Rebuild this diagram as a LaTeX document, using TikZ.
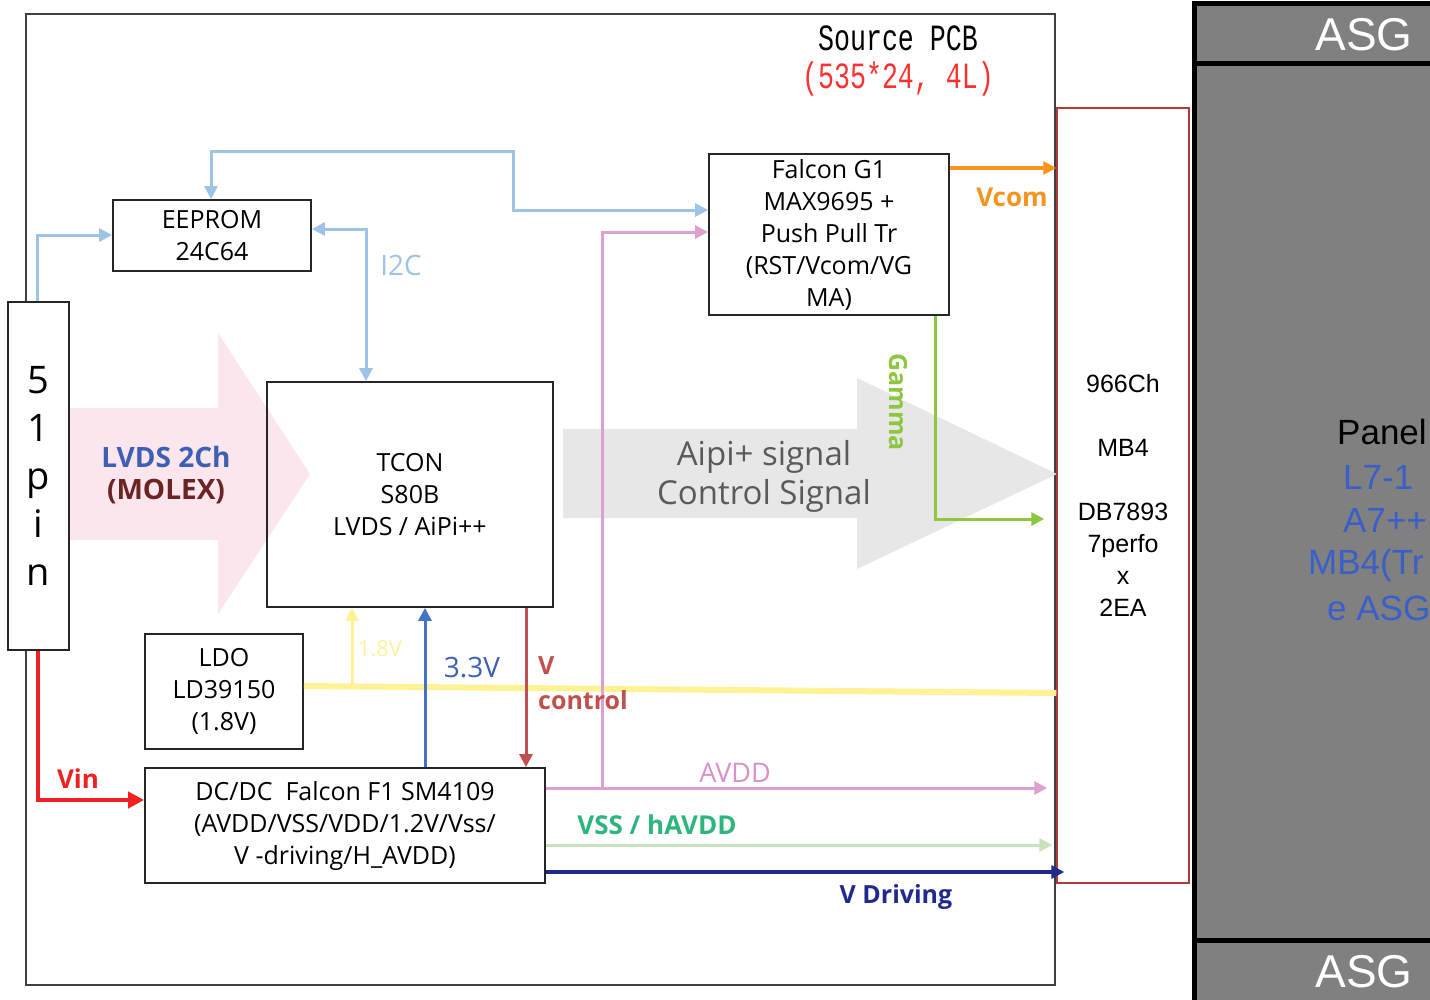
\documentclass[tikz,border=0pt]{standalone}
\usepackage{fontspec}
\setmainfont{Open Sans}
\newfontfamily\lib{Liberation Sans}
\newfontfamily\mono{Liberation Mono}
\usetikzlibrary{arrows.meta,calc}
\definecolor{cLB}{HTML}{9DC3E6}
\definecolor{cPK}{HTML}{DDA0CF}
\definecolor{cPKt}{HTML}{D98FCB}
\definecolor{cLG}{HTML}{C8E3BA}
\definecolor{cVSS}{HTML}{2DB57E}
\definecolor{cNV}{HTML}{1F2A8C}
\definecolor{cYL}{HTML}{FFF294}
\definecolor{cYLt}{HTML}{FFF0A0}
\definecolor{cBU}{HTML}{4472C4}
\definecolor{cBUt}{HTML}{3D5FB4}
\definecolor{cRB}{HTML}{C0504D}
\definecolor{cRD}{HTML}{EE2222}
\definecolor{cOR}{HTML}{F7941D}
\definecolor{cGR}{HTML}{8DC63F}
\definecolor{cPinkA}{HTML}{FCE6EE}
\definecolor{cGrayA}{HTML}{E7E7E7}
\definecolor{cMB}{HTML}{B03A3A}
\definecolor{cPanel}{HTML}{808080}
\definecolor{cPanTxt}{HTML}{3A5FC8}
\definecolor{cMolex}{HTML}{6B2323}
\definecolor{cAipi}{HTML}{5A5A5A}
\definecolor{cPCB}{HTML}{404040}
\definecolor{cSrcRed}{HTML}{FF3030}
\begin{document}
\begin{tikzpicture}[x=1pt,y=-1pt,
  box/.style={draw=black!85, line width=1.8pt, rectangle, inner sep=0pt, align=center,
    font=\fontsize{25}{32}\selectfont},
  arr/.style={-{Triangle[length=13pt,width=13pt]}},
  arrs/.style={{Triangle[length=13pt,width=13pt]}-{Triangle[length=13pt,width=13pt]}},
  wire/.style={line width=3pt},
  lbl/.style={inner sep=0pt, align=center, font=\fontsize{25}{30}\selectfont},
  lblb/.style={inner sep=0pt, align=center, font=\fontsize{25}{30}\selectfont\bfseries}]
\useasboundingbox (0,0) rectangle (1430,999);

% outer source PCB frame
\node[draw=cPCB, line width=2pt, minimum width=1029pt, minimum height=971pt, inner sep=0pt] (pcb) at (540.5,499.5) {};
\node[inner sep=0pt, align=center, font=\mono\fontsize{37}{38}\selectfont] (pcbtitle) at (898,61)
  {\scalebox{0.72}[1]{Source PCB}\\\textcolor{cSrcRed}{\scalebox{0.72}[1]{(535*24, 4L)}}};

% big background arrows
\fill[cPinkA] (64,408) -- (218,408) -- (218,333) -- (310,474) -- (218,614) -- (218,540) -- (64,540) -- cycle;
\fill[cGrayA] (563,429) -- (857,429) -- (857,378) -- (1057,474) -- (857,569) -- (857,518) -- (563,518) -- cycle;
\node[lblb, font=\fontsize{28}{32}\selectfont\bfseries] (lvds) at (166,475) {\textcolor{cBUt}{LVDS 2Ch}\\\textcolor{cMolex}{(MOLEX)}};
\node[lbl, text=cAipi, font=\fontsize{33}{39}\selectfont] (aipi) at (764,476) {Aipi+ signal\\Control Signal};

% boxes
\node[box, fill=white, minimum width=61pt, minimum height=348pt, font=\fontsize{38}{48}\selectfont] (pin) at (38.5,476) {5\\1\\p\\i\\n};
\node[box, minimum width=198pt, minimum height=71pt] (eeprom) at (212,235.5) {EEPROM\\24C64};
\node[box, minimum width=240pt, minimum height=161pt] (falcon) at (829,234.5) {Falcon G1\\MAX9695 +\\Push Pull Tr\\(RST/Vcom/VG\\MA)};
\node[box, minimum width=286pt, minimum height=225pt] (tcon) at (410,494.5) {TCON\\S80B\\LVDS / AiPi++};
\node[box, minimum width=158pt, minimum height=115pt] (ldo) at (224,691.5) {LDO\\LD39150\\(1.8V)};
\node[box, minimum width=400pt, minimum height=115pt] (dcdc) at (345,825.5) {DC/DC\ \ Falcon F1 SM4109\\(AVDD/VSS/VDD/1.2V/Vss/\\V -driving/H\_AVDD)};
\node[box, draw=cMB, line width=1.5pt, minimum width=132pt, minimum height=775pt, font=\lib\fontsize{25}{32}\selectfont] (mb) at (1123,495.5)
  {966Ch\\[32pt]MB4\\[32pt]DB7893\\7perfo\\x\\2EA};

% panel
\begin{scope}
\clip (0,0) rectangle (1430,999);
\node[draw=black, line width=5pt, fill=cPanel, minimum width=260pt, minimum height=1010pt, inner sep=0pt] (panel) at (1324.5,508) {};
\draw[line width=5pt] (panel.west |- 0,63) -- (panel.east |- 0,63);
\draw[line width=5pt] (panel.west |- 0,940) -- (panel.east |- 0,940);
\node[lbl, text=white, font=\lib\fontsize{46}{50}\selectfont] (asgtop) at (1364,35) {ASG};
\node[lbl, text=white, font=\lib\fontsize{46}{50}\selectfont] (asgbot) at (1364,972) {ASG};
\node[lbl, anchor=west, text=black, font=\lib\fontsize{35}{40}\selectfont] (pn1) at (1337,432) {Panel};
\node[lbl, anchor=west, text=cPanTxt, font=\lib\fontsize{35}{40}\selectfont] (pn2) at (1343,477) {L7-1};
\node[lbl, anchor=west, text=cPanTxt, font=\lib\fontsize{35}{40}\selectfont] (pn3) at (1343,520) {A7++};
\node[lbl, anchor=west, text=cPanTxt, font=\lib\fontsize{35}{40}\selectfont] (pn4) at (1308,565) {MB4(Tr};
\node[lbl, anchor=west, text=cPanTxt, font=\lib\fontsize{35}{40}\selectfont] (pn5) at (1327,608) {e ASG};
\end{scope}

% connectors
\draw[wire, cYL, line width=6pt] (ldo.east |- 0,686) -- (mb.west |- 0,693);
\coordinate (yj) at (352,686.5);
\draw[wire, cYL, arr] (yj) -- (tcon.south -| 352,0);

\draw[wire, cLB, arr] (pin.north -| 37,0) |- (eeprom.west |- 0,235);
\draw[wire, cLB, arrs] (falcon.west |- 0,210) -| (513,151) -| (eeprom.north -| 211,0);
\draw[wire, cLB, arrs] (eeprom.east |- 0,229) -| (tcon.north -| 366,0);

\draw[wire, cBU, arr] (dcdc.north -| 425,0) -- (tcon.south -| 425,0);
\draw[wire, cRB, arr] (tcon.south -| 526,0) -- (dcdc.north -| 526,0);
\draw[wire, cRD, line width=4pt, -{Triangle[length=16pt,width=16pt]}] (pin.south -| 38,0) |- (dcdc.west |- 0,800);

\coordinate (avj) at (602,788);
\draw[wire, cPK, arr, shorten >=9pt] (dcdc.east |- 0,788) -- (mb.west |- 0,788);
\draw[wire, cPK, arr] (avj) |- (falcon.west |- 0,232);
\draw[wire, cLG, arr, shorten >=4pt] (dcdc.east |- 0,845) -- (mb.west |- 0,845);
\draw[wire, cNV, line width=3.5pt, arr, shorten >=-8pt] (dcdc.east |- 0,872) -- (mb.west |- 0,872);
\draw[wire, cOR, line width=3.5pt, arr] (falcon.east |- 0,168) -- (mb.west |- 0,168);
\draw[wire, cGR, arr, shorten >=12pt] (falcon.south -| 935,0) |- (mb.west |- 0,519);

% labels
\node[lbl, text=cLB, font=\fontsize{28}{30}\selectfont] (li2c) at (401,265) {I2C};
\node[lblb, text=cOR, font=\fontsize{26}{30}\selectfont\bfseries] (lvcom) at (1012,197) {Vcom};
\node[lblb, text=cGR, rotate=-90] (lgamma) at (898,402) {Gamma};
\node[lbl, text=cPKt, font=\fontsize{27}{30}\selectfont] (lavdd) at (735,773) {AVDD};
\node[lblb, text=cVSS, font=\fontsize{26}{30}\selectfont\bfseries] (lvss) at (657,825) {VSS / hAVDD};
\node[lblb, text=cNV] (lvdrv) at (896,897) {V Driving};
\node[lbl, text=cBUt, font=\fontsize{28}{30}\selectfont] (l33) at (472,668) {3.3V};
\node[lbl, text=cYLt, font=\fontsize{22}{24}\selectfont] (l18) at (380,649) {1.8V};
\node[lblb, text=cRB, anchor=west] (lvc1) at (538,666) {V};
\node[lblb, text=cRB, anchor=west] (lvc2) at (538,700) {control};
\node[lblb, text=cRD, font=\fontsize{26}{30}\selectfont\bfseries] (lvin) at (78,779) {Vin};
\end{tikzpicture}
\end{document}
